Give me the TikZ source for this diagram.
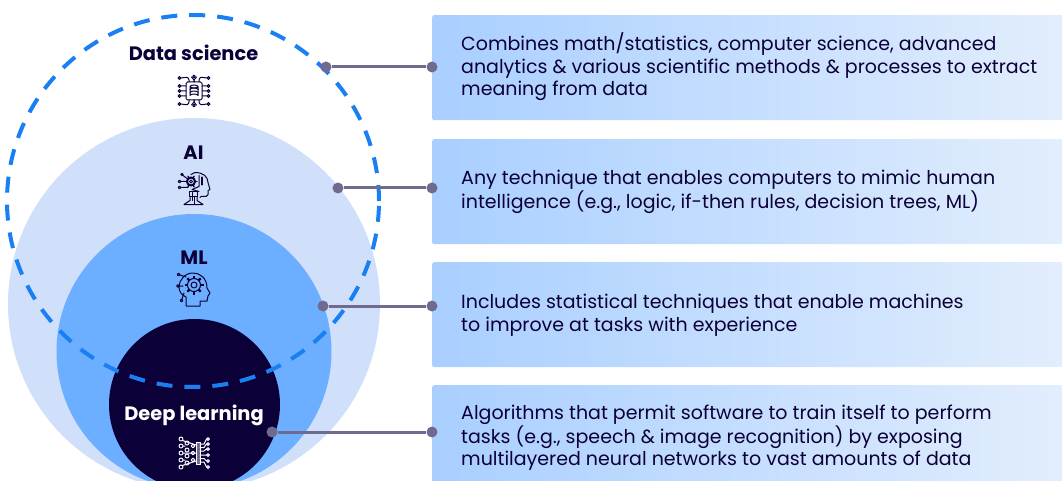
\documentclass[tikz,border=0pt]{standalone}
\usepackage{fontspec}
\setmainfont{Poppins}
\usepackage{tikz}
\usetikzlibrary{positioning}

\definecolor{inkblue}{HTML}{0B0038}
\definecolor{dashblue}{HTML}{1A7FF5}
\definecolor{aifill}{HTML}{D0E0FA}
\definecolor{mlfill}{HTML}{6CAEFF}
\definecolor{boxleft}{HTML}{A9CFFF}
\definecolor{boxright}{HTML}{E3EEFD}
\definecolor{linkgray}{HTML}{6F6A8E}

\tikzset{
  infobox/.style={anchor=north west, minimum width=640pt, minimum height=105pt, inner sep=0pt,
    rounded corners=2pt, left color=boxleft, right color=boxright},
  infotext/.style={anchor=west, align=left, text=inkblue, font=\fontsize{19}{22.5}\selectfont, inner sep=0pt},
  title/.style={font=\fontsize{19.4}{20}\selectfont\bfseries, text=inkblue, inner sep=0pt},
  dotnode/.style={circle, fill=linkgray, minimum size=11pt, inner sep=0pt},
  link/.style={draw=linkgray, line width=3pt},
  icon/.style={line width=1pt, line cap=round, line join=round},
  dsicon/.pic={
    \draw[icon, rounded corners=1.5pt] (-8,-9) rectangle (8,9);
    \draw[icon] (-4,-4.5) -- (-4,4.5) arc (180:360:4 and 1.5) -- (4,-4.5) arc (0:360:4 and 1.5);
    \draw[icon] (-4,-1.5) arc (180:360:4 and 1.5) (-4,1.5) arc (180:360:4 and 1.5);
    \foreach \sx in {-1,1} {
      \foreach \yy in {-5,0,5}
        \draw[icon] (\sx*8,\yy) -- (\sx*13,\yy) (\sx*14.5,\yy) circle (1.4);
      \foreach \sy in {-1,1} {
        \draw[icon] (\sx*5,\sy*9) -- (\sx*5,\sy*11) .. controls (\sx*6,\sy*14) .. (\sx*13,\sy*13) (\sx*14.5,\sy*13) circle (1.4);
        \draw[icon] (0,\sy*9) -- (0,\sy*11) -- (\sx*2.5,\sy*14);
      }
    }
    \foreach \sy in {-1,1}
      \draw[icon] (0,\sy*14.5) circle (1.3);
  },
  aiicon/.pic={
    \draw[icon] (1,-16) .. controls (9,-16) and (14,-12) .. (14,-6) -- (16,1) -- (14,2) -- (14,6) .. controls (13,8) .. (7,8) -- (6,9);
    \draw[icon] (-3,-14) -- (1,-16);
    \draw[icon, line width=2.4pt] (8,-11) -- (8,-4);
    \draw[icon] (5,-13) -- (5,-2) -- (-2,1) -- (5,3);
    \draw[icon, line width=2pt] (-3,-7) circle (4);
    \draw[icon, fill=aifill] (-3,-7) circle (1.5);
    \foreach \ang in {0,60,...,300}
      \draw[icon, line width=1.4pt] (-3,-7) ++(\ang:4) -- ++(\ang:2);
    \draw[icon] (-9,-7) -- (-13,-7) (-14.5,-7) circle (1.3);
    \draw[icon] (-7,-10) -- (-11,-13) (-12,-14) circle (1.2);
    \draw[icon] (-6,-1) -- (-13,-1) (-14.5,-1) circle (1.3);
    \draw[icon] (-5,3) rectangle (3,8);
    \draw[icon] (-4,8) -- (-4,12) -- (-10,16) -- (9,16) -- (3,12) -- (3,8);
    \draw[icon] (-2,4) -- (-2,12) (0,8) -- (0,16);
  },
  mlicon/.pic={
    \draw[icon] (-8,7) -- (-8,16) -- (6,16) -- (6,11) -- (13,11) .. controls (14,9) .. (14,6) -- (16,3) -- (13,-2)
      .. controls (13,-12) and (6,-17) .. (-1,-17) .. controls (-9,-17) and (-15,-10) .. (-15,-3) .. controls (-15,2) and (-12,5) .. (-8,7);
    \draw[icon] (0,-5) circle (6.5) (0,-5) circle (3);
    \foreach \ang in {0,45,...,315}
      \draw[icon, line width=2.2pt, line cap=butt] (0,-5) ++(\ang:6.5) -- ++(\ang:3);
    \draw[icon] (-8,-13) -- (-14,-15) (-15.5,-15.5) circle (1.3);
    \draw[icon] (-11,-4) -- (-14.5,-4) (-16,-4) circle (1.3);
    \draw[icon] (-10,3) -- (-12,9) (-12.5,10.5) circle (1.3);
  },
  dlicon/.pic={
    \foreach \yy in {-14,-7,0,7,14}
      \draw[icon, draw=white] (-13,\yy) circle (2);
    \foreach \yy in {-10,-3,3,10}
      \draw[icon, draw=white] (-7,\yy) circle (2);
    \foreach \yy in {-7,0,7}
      \draw[icon, draw=white] (-1,\yy) circle (1.8);
    \draw[icon, draw=white] (-11.5,-12.5) -- (2,-8) (-11,-7) -- (-9,-7) (-11,0) -- (2,0) (-11,7) -- (-9,7) (-11.5,12.5) -- (2,8);
    \draw[icon, draw=white, fill=linkgray] (2,-11) rectangle (6,11);
    \foreach \ya/\yb in {-9/-14,-5.5/-9,-2/-4,2/2,5.5/8,9/14}
      \draw[icon, draw=white] (6,\ya) -- (10,\ya) -- (12.5,\yb) (14,\yb) circle (1.4);
  }
}

\begin{document}
\begin{tikzpicture}[x=1pt,y=-1pt]
   \useasboundingbox (0,0) rectangle (1062,481);
   \clip (0,0) rectangle (1062,481);

   % circles
   \node[circle, fill=aifill, minimum size=372pt, inner sep=0pt] (ai) at (194,304) {};
   \node[circle, fill=mlfill, minimum size=275pt, inner sep=0pt] (ml) at (194,351.5) {};
   \node[circle, fill=inkblue, minimum size=171pt, inner sep=0pt] (dl) at (194.5,404.5) {};
   \node[circle, draw=dashblue, line width=4pt, dash pattern=on 16pt off 12pt, minimum size=372pt, inner sep=0pt] (ds) at (193,201) {};

   % boxes
   \node[infobox] (b1) at (432,15) {};
   \node[infobox] (b2) at (432,139) {};
   \node[infobox] (b3) at (432,262) {};
   \node[infobox] (b4) at (432,385) {};

   % texts
   \node[infotext] (t1) at (461,67) {Combines math/statistics, computer science, advanced\\analytics \& various scientific methods \& processes to extract\\meaning from data};
   \node[infotext] (t2) at (461,192) {Any technique that enables computers to mimic human\\intelligence (e.g., logic, if-then rules, decision trees, ML)};
   \node[infotext] (t3) at (461,315) {Includes statistical techniques that enable machines\\to improve at tasks with experience};
   \node[infotext] (t4) at (461,438) {Algorithms that permit software to train itself to perform\\tasks (e.g., speech \& image recognition) by exposing\\multilayered neural networks to vast amounts of data};

   \node[title] (lds) at (193.5,53) {Data science};
   \node[title] (lai) at (193.5,153) {AI};
   \node[title] (lml) at (194,258) {ML};
   \node[title, text=white] (ldl) at (194,415) {Deep learning};

   % icons
   \pic[draw=inkblue] at (194,91) {dsicon};
   \pic[draw=inkblue] at (194,188.5) {aiicon};
   \pic[draw=inkblue] at (194,290) {mlicon};
   \pic[draw=white] at (194,453) {dlicon};

   % connectors
   \node[dotnode] (s1) at (326,67) {};
   \node[dotnode] (e1) at (432,67) {};
   \node[dotnode] (s2) at (338,188) {};
   \node[dotnode] (e2) at (432,188) {};
   \node[dotnode] (s3) at (323,306) {};
   \node[dotnode] (e3) at (432,306) {};
   \node[dotnode] (s4) at (272,432) {};
   \node[dotnode] (e4) at (432,432) {};
   \draw[link] (s1) -- (e1);
   \draw[link] (s2) -- (e2);
   \draw[link] (s3) -- (e3);
   \draw[link] (s4) -- (e4);
\end{tikzpicture}
\end{document}
